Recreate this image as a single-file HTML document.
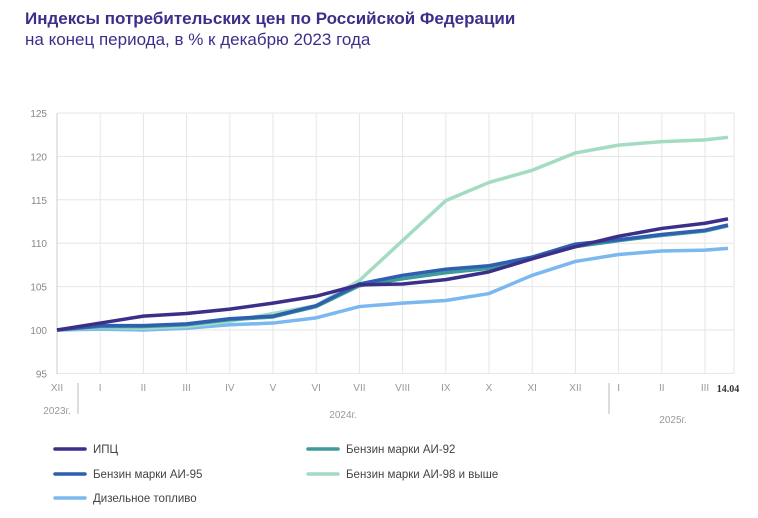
<!DOCTYPE html>
<html><head><meta charset="utf-8"><style>
body{margin:0;background:#fff;width:758px;height:518px;overflow:hidden;font-family:"Liberation Sans","Noto Sans CJK SC",sans-serif}
.t1{position:absolute;left:25px;top:9px;font-size:17px;font-weight:bold;color:#3b2f8a}
.t2{position:absolute;left:25px;top:30px;font-size:17px;color:#3b2f8a}
svg{position:absolute;left:0;top:0}
</style></head><body>
<div class="t1">Индексы потребительских цен по Российской Федерации</div>
<div class="t2">на конец периода, в % к декабрю 2023 года</div>
<svg id="s" width="758" height="518" font-family="Liberation Sans, sans-serif"></svg>
<script>
const s=document.getElementById('s');let h='';
const X=i=>57+i*43.2, Y=v=>330-(v-100)*8.68;
for(let v=95;v<=125;v+=5){h+=`<line x1="57" x2="734" y1="${Y(v)}" y2="${Y(v)}" stroke="#e6e6e6"/><text x="47" y="${Y(v)+4}" font-size="10" fill="#888" text-anchor="end">${v}</text>`;}
for(let i=1;i<=16;i++){const x=i==16?734:X(i);h+=`<line x1="${x}" x2="${x}" y1="113" y2="374" stroke="#e6e6e6"/>`;}
h+=`<line x1="57" x2="57" y1="113" y2="374" stroke="#ccc"/>`;
const m=['XII','I','II','III','IV','V','VI','VII','VIII','IX','X','XI','XII','I','II','III'];
m.forEach((t,i)=>h+=`<text x="${X(i)}" y="391" font-size="10" fill="#999" text-anchor="middle">${t}</text>`);
h+=`<text x="728" y="392" font-size="10" font-weight="bold" fill="#333" font-family="Liberation Serif, serif" text-anchor="middle">14.04</text>`;
h+=`<line x1="78" x2="78" y1="383" y2="414" stroke="#bbb"/><line x1="609" x2="609" y1="383" y2="414" stroke="#bbb"/>`;
h+=`<text x="57" y="414" font-size="10" fill="#999" text-anchor="middle">2023г.</text><text x="343" y="418" font-size="10" fill="#999" text-anchor="middle">2024г.</text><text x="673" y="423" font-size="10" fill="#999" text-anchor="middle">2025г.</text>`;
const xs=i=>i==16?728:X(i);
const S=[
['#7ab8ef',[100,100.1,100.0,100.2,100.6,100.8,101.4,102.7,103.1,103.4,104.2,106.3,107.9,108.7,109.1,109.2,109.4]],
['#a3dcc2',[100,100.3,100.2,100.4,101.0,101.9,102.8,105.7,110.3,114.9,117.0,118.4,120.4,121.3,121.7,121.9,122.2]],
['#3f9a9a',[100,100.4,100.4,100.6,101.2,101.5,102.7,105.1,105.9,106.6,107.1,108.3,109.6,110.3,110.9,111.4,112.0]],
['#2f5fb0',[100,100.5,100.5,100.7,101.3,101.6,102.8,105.3,106.3,107.0,107.4,108.4,109.9,110.4,111.0,111.5,112.1]],
['#3b2f8a',[100,100.8,101.6,101.9,102.4,103.1,103.9,105.2,105.3,105.8,106.7,108.2,109.6,110.8,111.7,112.3,112.8]]];
S.forEach(([c,d])=>h+=`<polyline fill="none" stroke="${c}" stroke-width="3.5" stroke-linejoin="round" points="${d.map((v,i)=>xs(i)+','+Y(v)).join(' ')}"/>`);
const L=[[55,449,'#3b2f8a','ИПЦ'],[308,449,'#3f9a9a','Бензин марки АИ-92'],[55,474,'#2f5fb0','Бензин марки АИ-95'],[308,474,'#a3dcc2','Бензин марки АИ-98 и выше'],[55,498,'#7ab8ef','Дизельное топливо']];
L.forEach(([x,y,c,t])=>h+=`<line x1="${x}" x2="${x+30}" y1="${y}" y2="${y}" stroke="${c}" stroke-width="3.5" stroke-linecap="round"/><text x="${x+38}" y="${y+4}" font-size="11.5" fill="#444">${t}</text>`);
s.innerHTML=h;
</script>
</body></html>
